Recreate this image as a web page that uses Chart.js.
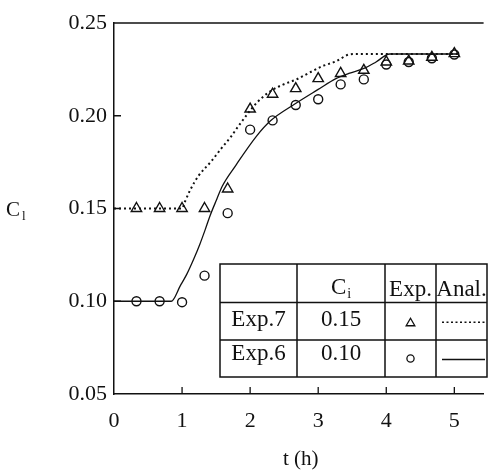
<!DOCTYPE html>
<html>
<head>
<meta charset="utf-8">
<script src="https://cdn.jsdelivr.net/npm/chart.js@4.4.0/dist/chart.umd.min.js"></script>
<style>
html, body { margin: 0; padding: 0; background: #fff; }
#wrap { width: 491px; height: 470px; }
</style>
</head>
<body>
<div id="wrap"><canvas id="chart"></canvas></div>
<script>
// sampling times (h) of the measurements
var sampleTimes = [0.33, 0.67, 1.0, 1.33, 1.67, 2.0, 2.33, 2.67, 3.0, 3.33, 3.67, 4.0, 4.33, 4.67, 5.0];
// measured C_l, experiment 7 (triangles) and experiment 6 (circles)
var exp7Measured = [0.150, 0.150, 0.150, 0.150, 0.1605, 0.2036, 0.2116, 0.2146, 0.2200, 0.2228, 0.2245, 0.2290, 0.2295, 0.2315, 0.2335];
var exp6Measured = [0.100, 0.100, 0.0995, 0.1138, 0.1475, 0.1925, 0.1975, 0.2058, 0.2089, 0.2169, 0.2196, 0.2276, 0.2290, 0.2310, 0.2330];

// analytical curves
var anal7Times = [0, 1.0, 1.04, 1.12, 1.24, 1.43, 1.58, 1.72, 1.82, 1.96, 2.10, 2.30, 2.49, 2.68, 2.87, 3.06, 3.26, 3.45, 3.55, 5.05];
var anal7Values = [0.150, 0.150, 0.1535, 0.1600, 0.1675, 0.1755, 0.1825, 0.1888, 0.1940, 0.2009, 0.2071, 0.2133, 0.2169, 0.2196, 0.2232, 0.2267, 0.2293, 0.2330, 0.2333, 0.2333];
var anal6Times = [0, 0.84, 0.975, 1.07, 1.17, 1.26, 1.34, 1.41, 1.51, 1.59, 1.79, 2.10, 2.30, 2.65, 3.0, 3.26, 3.45, 3.69, 3.85, 4.05, 5.05];
var anal6Values = [0.100, 0.100, 0.1084, 0.1146, 0.1226, 0.1306, 0.1386, 0.1460, 0.1550, 0.1620, 0.1733, 0.1893, 0.1973, 0.2062, 0.2142, 0.2200, 0.2228, 0.2258, 0.2290, 0.2333, 0.2333];

var xTicks = [0, 1, 2, 3, 4, 5];
var yTicks = [0.05, 0.10, 0.15, 0.20, 0.25];

var tableHeader = ['', 'C', 'Exp.', 'Anal.'];
var tableRows = [['Exp.7', '0.15'], ['Exp.6', '0.10']];

var ink = '#111';
var serif = '"Liberation Serif", "DejaVu Serif", serif';

function toPoints(xs, ys) {
    return xs.map(function (x, i) { return { x: x, y: ys[i] }; });
}

// table frame in canvas pixels
var tableCols = [220, 297, 385, 436, 487];
var tableLines = [264, 302.5, 340, 377];
var tableBaselines = [296, 326, 360];

function drawTable(ctx) {
    var left = tableCols[0], right = tableCols[4];
    var top = tableLines[0], bottom = tableLines[3];
    ctx.fillStyle = '#fff';
    ctx.fillRect(left, top, right - left, bottom - top);

    ctx.strokeStyle = ink;
    ctx.lineWidth = 1.5;
    ctx.strokeRect(left, top, right - left, bottom - top);
    ctx.beginPath();
    tableCols.slice(1, 4).forEach(function (cx) {
        ctx.moveTo(cx, top);
        ctx.lineTo(cx, bottom);
    });
    tableLines.slice(1, 3).forEach(function (cy) {
        ctx.moveTo(left, cy);
        ctx.lineTo(right, cy);
    });
    ctx.stroke();

    function center(col) { return (tableCols[col] + tableCols[col + 1]) / 2; }

    ctx.fillStyle = ink;
    ctx.textBaseline = 'alphabetic';
    ctx.textAlign = 'left';

    // header: C with subscript i
    ctx.font = '23px ' + serif;
    var cw = ctx.measureText(tableHeader[1]).width;
    ctx.font = '14px ' + serif;
    var iw = ctx.measureText('i').width;
    var hx = center(1) - (cw + iw + 1) / 2;
    ctx.font = '23px ' + serif;
    ctx.fillText(tableHeader[1], hx, tableBaselines[0] - 2);
    ctx.font = '14px ' + serif;
    ctx.fillText('i', hx + cw + 1, tableBaselines[0] + 2);

    ctx.font = '23px ' + serif;
    ctx.textAlign = 'center';
    ctx.fillText(tableHeader[2], center(2), tableBaselines[0]);
    ctx.fillText(tableHeader[3], center(3), tableBaselines[0]);

    tableRows.forEach(function (row, r) {
        ctx.fillText(row[0], center(0), tableBaselines[r + 1]);
        ctx.fillText(row[1], center(1), tableBaselines[r + 1]);
    });

    // marker and line samples
    var midRow1 = (tableLines[1] + tableLines[2]) / 2 + 2;
    var midRow2 = (tableLines[2] + tableLines[3]) / 2;
    ctx.fillStyle = '#fff';
    ctx.strokeStyle = ink;
    ctx.lineWidth = 1.3;
    Chart.helpers.drawPoint(ctx, { pointStyle: 'triangle', radius: 5, borderWidth: 1.3 }, center(2), midRow1);
    Chart.helpers.drawPoint(ctx, { pointStyle: 'circle', radius: 3.6, borderWidth: 1.3 }, center(2), midRow2);

    ctx.beginPath();
    ctx.setLineDash([2, 2.5]);
    ctx.lineWidth = 1.6;
    ctx.moveTo(tableCols[3] + 6, midRow1 - 1);
    ctx.lineTo(tableCols[4] - 2, midRow1 - 1);
    ctx.stroke();
    ctx.setLineDash([]);
    ctx.beginPath();
    ctx.lineWidth = 1.3;
    ctx.moveTo(tableCols[3] + 6, midRow2 + 1);
    ctx.lineTo(tableCols[4] - 2, midRow2 + 1);
    ctx.stroke();
}

var decorations = {
    id: 'decorations',
    afterDraw: function (chart) {
        var ctx = chart.ctx;
        var area = chart.chartArea;
        var xs = chart.scales.x;
        var ys = chart.scales.y;
        ctx.save();

        // frame line along the top
        ctx.strokeStyle = ink;
        ctx.lineWidth = 1.5;
        ctx.beginPath();
        ctx.moveTo(area.left, area.top);
        ctx.lineTo(area.right, area.top);
        ctx.stroke();

        // tick marks pointing into the plot
        ctx.lineWidth = 1.3;
        ctx.beginPath();
        xTicks.forEach(function (v) {
            if (v === xs.min) return;
            var px = xs.getPixelForValue(v);
            ctx.moveTo(px, area.bottom);
            ctx.lineTo(px, area.bottom - 7);
        });
        yTicks.forEach(function (v) {
            if (v === ys.min || v === ys.max) return;
            var py = ys.getPixelForValue(v);
            ctx.moveTo(area.left, py);
            ctx.lineTo(area.left + 7, py);
        });
        ctx.stroke();

        // axis titles
        ctx.fillStyle = ink;
        ctx.textBaseline = 'alphabetic';
        ctx.textAlign = 'center';
        ctx.font = '21px ' + serif;
        ctx.fillText('t (h)', (area.left + area.right) / 2 + 2, 465);
        ctx.textAlign = 'left';
        ctx.fillText('C', 6, 216);
        ctx.font = '13px ' + serif;
        ctx.fillText('l', 22, 220);

        drawTable(ctx);
        ctx.restore();
    }
};

new Chart(document.getElementById('chart'), {
    type: 'scatter',
    data: {
        datasets: [{
            label: 'Anal. Exp.7',
            data: toPoints(anal7Times, anal7Values),
            showLine: true,
            pointRadius: 0,
            borderColor: ink,
            borderWidth: 2,
            borderDash: [2, 3],
            cubicInterpolationMode: 'monotone'
        }, {
            label: 'Anal. Exp.6',
            data: toPoints(anal6Times, anal6Values),
            showLine: true,
            pointRadius: 0,
            borderColor: ink,
            borderWidth: 1.3,
            cubicInterpolationMode: 'monotone'
        }, {
            label: 'Exp.7',
            data: toPoints(sampleTimes, exp7Measured),
            pointStyle: 'triangle',
            pointRadius: 6,
            borderColor: ink,
            borderWidth: 1.4,
            backgroundColor: 'rgba(0,0,0,0)'
        }, {
            label: 'Exp.6',
            data: toPoints(sampleTimes, exp6Measured),
            pointStyle: 'circle',
            pointRadius: 4.5,
            borderColor: ink,
            borderWidth: 1.4,
            backgroundColor: 'rgba(0,0,0,0)'
        }]
    },
    options: {
        responsive: true,
        maintainAspectRatio: false,
        animation: false,
        layout: { padding: { top: 23, right: 0, left: 0, bottom: 0 } },
        plugins: {
            legend: { display: false },
            tooltip: { enabled: false }
        },
        scales: {
            x: {
                type: 'linear',
                min: 0,
                max: 5.43,
                grid: { display: false, drawTicks: false },
                border: { display: true, color: ink, width: 1.5 },
                afterBuildTicks: function (scale) {
                    scale.ticks = xTicks.map(function (v) { return { value: v }; });
                },
                afterFit: function (scale) { scale.height = 76; },
                ticks: {
                    padding: 14,
                    color: ink,
                    font: { family: serif, size: 22 },
                    callback: function (v) { return String(v); }
                }
            },
            y: {
                type: 'linear',
                min: 0.05,
                max: 0.25,
                grid: { display: false, drawTicks: false },
                border: { display: true, color: ink, width: 1.5 },
                afterBuildTicks: function (scale) {
                    scale.ticks = yTicks.map(function (v) { return { value: v }; });
                },
                afterFit: function (scale) { scale.width = 114; },
                ticks: {
                    padding: 7,
                    color: ink,
                    font: { family: serif, size: 22 },
                    callback: function (v) { return v.toFixed(2); }
                }
            }
        }
    },
    plugins: [decorations]
});
</script>
</body>
</html>
